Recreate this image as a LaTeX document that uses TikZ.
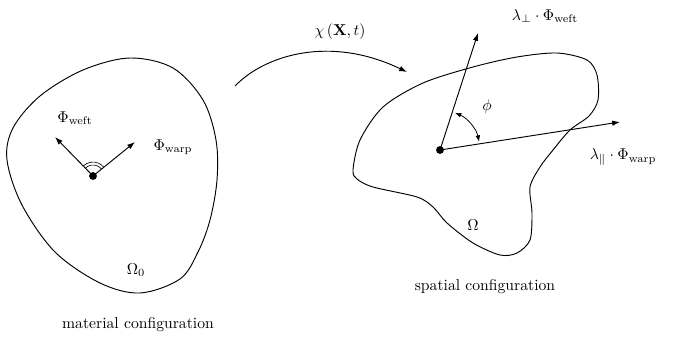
\documentclass[tikz,border=0pt]{standalone}
\usetikzlibrary{arrows.meta}
\begin{document}
\begin{tikzpicture}[x=0.638pt,y=-0.638pt,
  blob/.style={line width=0.6pt},
  vec/.style={line width=0.6pt,-{Latex[length=5pt,width=3.5pt]}},
  lbl/.style={inner sep=1pt}]
\useasboundingbox (0,0) rectangle (674,337);
% left blob
\draw[blob] plot[smooth cycle,tension=0.55] coordinates {
 (130,58) (173,68) (203,100) (216,140) (217,180) (210,220) (198,252) (180,279)
 (140,293) (100,283) (55,252) (22,205) (7,160) (13,128) (40,96) (83,70)};
% right blob
\draw[blob] plot[smooth cycle,tension=0.5] coordinates {
 (353,170) (360,140) (383,107) (423,83) (473,67) (517,57) (557,53) (587,60)
 (597,75) (598,100) (589,116) (570,130) (553,150) (540,167) (530,187)
 (532,213) (530,240) (517,253) (500,255) (473,243) (447,223) (433,207)
 (417,197) (373,187) (357,179)};
% left vectors
\coordinate (P0) at (93,176);
\coordinate (W0) at (55,137);
\coordinate (V0) at (135,142);
\draw[vec] (P0) -- (W0);
\draw[vec] (P0) -- (V0);
\draw[line width=0.4pt] (P0) ++(39:7pt) arc[start angle=39,end angle=134,radius=7pt];
\draw[line width=0.4pt] (P0) ++(39:8.9pt) arc[start angle=39,end angle=134,radius=8.9pt];
\fill (P0) circle (2.5pt);
\node[lbl] (lw) at (75,118) {$\Phi_{\mathrm{weft}}$};
\node[lbl] (lv) at (173,147) {$\Phi_{\mathrm{warp}}$};
\node[lbl] (o0) at (136,270) {$\Omega_0$};
\node[lbl] (mc) at (138,325) {material configuration};
% right vectors
\coordinate (P1) at (440,150);
\coordinate (W1) at (478,33);
\coordinate (V1) at (620,122);
\draw[vec] (P1) -- (W1);
\draw[vec] (P1) -- (V1);
\draw[line width=0.5pt,{Latex[length=4pt,width=3pt]}-{Latex[length=4pt,width=3pt]}] (P1) ++(12:25.5pt) arc[start angle=12,end angle=68,radius=25.5pt];
\fill (P1) circle (2.5pt);
\node[lbl] (lw1) at (545,16) {$\lambda_{\perp}\cdot\Phi_{\mathrm{weft}}$};
\node[lbl] (lv1) at (623,157) {$\lambda_{\parallel}\cdot\Phi_{\mathrm{warp}}$};
\node[lbl] (phi) at (487,107) {$\phi$};
\node[lbl] (om) at (473,225) {$\Omega$};
\node[lbl] (sc) at (485,287) {spatial configuration};
% mapping arrow
\coordinate (A) at (235,86);
\coordinate (B) at (407,72);
\draw[vec] (A) .. controls (265,55) and (330,35) .. (B);
\node[lbl] (chi) at (340,32) {$\chi\left(\mathbf{X},t\right)$};
\end{tikzpicture}
\end{document}
